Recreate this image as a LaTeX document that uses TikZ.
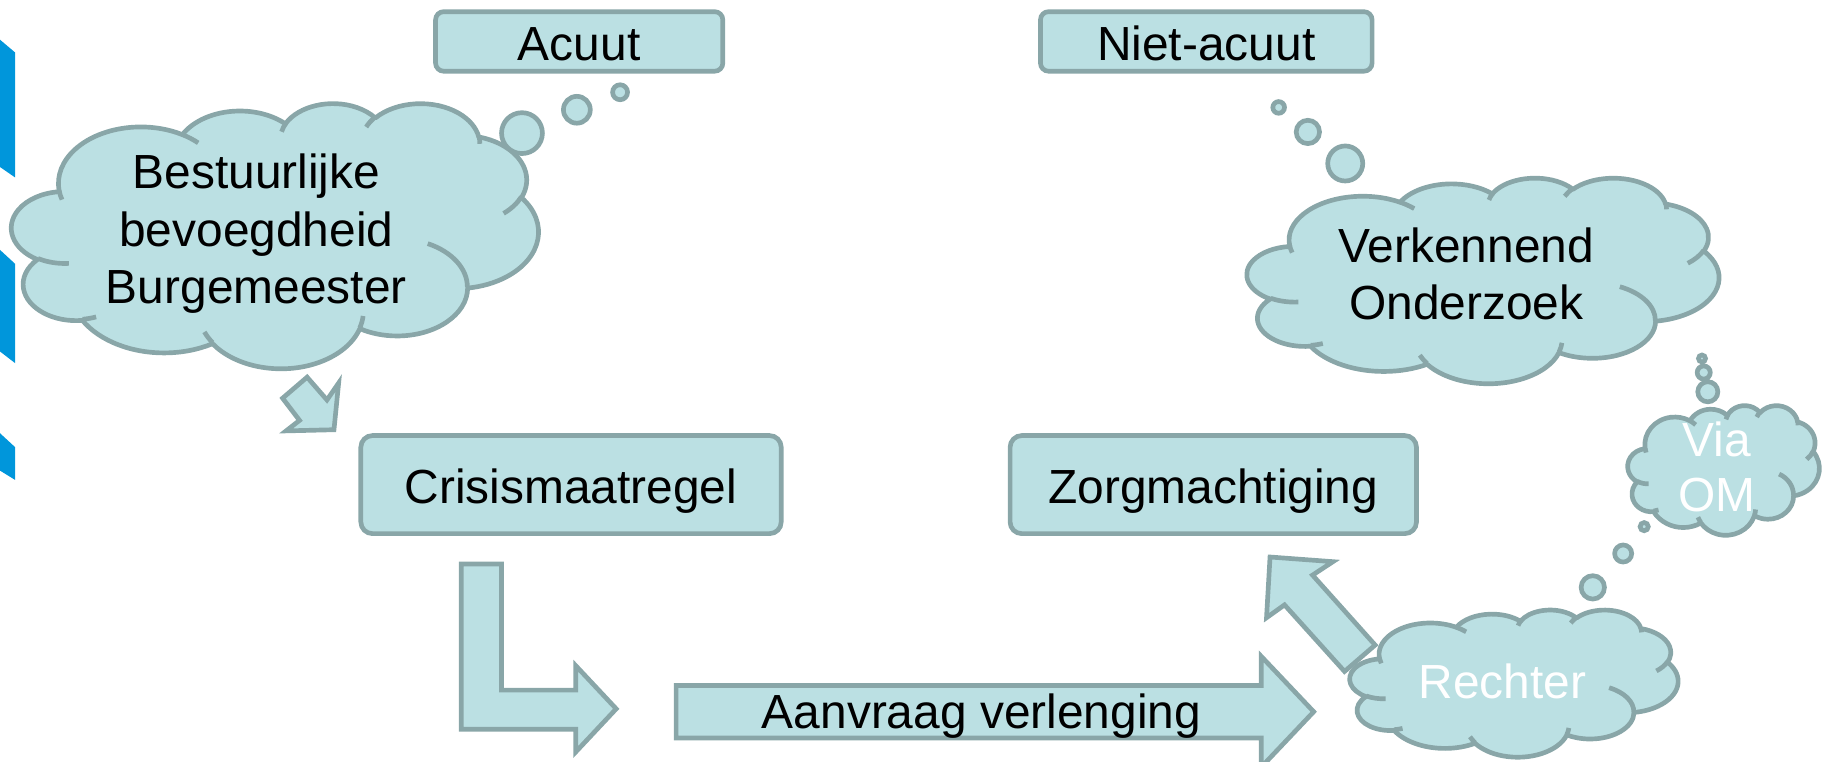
\documentclass[tikz,border=0pt]{standalone}
\usepackage{fontspec}
\setmainfont{Liberation Sans}
\definecolor{cfill}{RGB}{187,224,227}
\definecolor{cline}{RGB}{137,166,168}
\definecolor{cblue}{RGB}{0,150,219}
% DrawingML arcTo: visual angle -> parametric angle
\newcommand\ooT[3]{(#3+Mod(atan2((#1)*sin(#3),(#2)*cos(#3))-(#3)+180,360)-180)}
\newcommand\ooarc[4]{arc[x radius=#1,y radius=#2,start angle={\ooT{#1}{#2}{#3}},end angle={\ooT{#1}{#2}{#3+#4}}]}
% PowerPoint cloud in box (x,y,w,h)
\newcommand\ppcloud[4]{%
 \begin{scope}[shift={(#1,#2)},xscale=#3/43.2,yscale=#4/43.2]
  \path[shp,line join=round] (3.9,14.37)
   \ooarc{6.753}{9.19}{-190.4875}{123.7805}
   \ooarc{5.333}{7.267}{-144.1024}{89.9452}
   \ooarc{4.365}{5.945}{-145.8079}{99.723}
   \ooarc{4.857}{6.595}{-130.9861}{117.2417}
   \ooarc{5.333}{7.273}{-78.7089}{109.0269}
   \ooarc{6.775}{9.22}{-46.2673}{130.269}
   \ooarc{5.785}{7.867}{0.625}{114.0333}
   \ooarc{6.752}{9.215}{22.4516}{115.1726}
   \ooarc{7.72}{10.543}{66.2426}{75.711}
   \ooarc{4.36}{5.918}{-274.9421}{146.7356}
   \ooarc{4.345}{5.945}{-246.8285}{152.5189} -- cycle;
  \draw[cline,line width=2pt]
   (4.693,26.177) \ooarc{4.345}{5.945}{86.742}{26.4295}
   (6.928,34.899) \ooarc{4.36}{5.918}{73.6105}{11.4475}
   (16.478,39.09) \ooarc{6.752}{9.215}{137.6242}{14.0811}
   (28.827,34.751) \ooarc{6.752}{9.215}{6.4533}{15.9984}
   (34.129,22.954) \ooarc{5.785}{7.867}{-70.2924}{70.9174}
   (41.798,15.354) \ooarc{5.333}{7.273}{30.318}{27.7515}
   (38.324,5.426) \ooarc{4.857}{6.595}{-13.7443}{14.8589}
   (29.078,3.952) \ooarc{4.857}{6.595}{-149.1815}{18.1954}
   (22.141,4.72) \ooarc{4.365}{5.945}{-163.4943}{17.6864}
   (14.0,5.192) \ooarc{6.753}{9.19}{-66.707}{12.3194}
   (4.127,15.789) \ooarc{6.753}{9.19}{157.6544}{11.8582};
 \end{scope}}
\tikzset{
 shp/.style={fill=cfill,draw=cline,line width=2pt},
 rbox/.style={shp,inner sep=0pt,text height=16.2pt,text depth=0pt,font=\fontsize{20.5}{24}\selectfont},
 lbl/.style={inner sep=0pt,anchor=base,font=\fontsize{20.5}{24}\selectfont},
 wlbl/.style={lbl,text=white},
}
\begin{document}
\begin{tikzpicture}[x=0.5pt,y=-0.5pt]
\clip (0,0) rectangle (1568,652);
% blue bars at the left edge
\fill[cblue] (0,34) -- (13,45) -- (13,152) -- (0,143) -- cycle;
\fill[cblue] (0,214) -- (13,226) -- (13,311) -- (0,301) -- cycle;
\fill[cblue] (0,371) -- (13,383) -- (13,411) -- (0,403) -- cycle;
% boxes
\node[rbox,minimum width=123pt,minimum height=25.5pt,rounded corners=3.5pt] (acuut) at (496,35.5) {Acuut};
\node[rbox,minimum width=142pt,minimum height=25.5pt,rounded corners=3.5pt] (nietacuut) at (1033,35.5) {Niet-acuut};
\node[rbox,minimum width=180pt,minimum height=42pt,rounded corners=5pt] (crisis) at (489,415) {Crisismaatregel};
\node[rbox,minimum width=174pt,minimum height=42pt,rounded corners=5pt] (zorg) at (1039,415) {Zorgmachtiging};
% block arrows
\path[shp] (263,323) -- (280,342.5) -- (290,328) -- (286,368) -- (245,369) -- (256.5,360) -- (242,341) -- cycle;
\path[shp] (395,483) -- (429.5,483) -- (429.5,591) -- (493,591) -- (493,570) -- (527.7,607) -- (493,644) -- (493,624.5) -- (395,624.5) -- cycle;
\path[shp] (579,587) -- (1080,587) -- (1080,562) -- (1125,609.5) -- (1080,657) -- (1080,632) -- (579,632) -- cycle;
\path[shp] (1087.6,477) -- (1141.5,481) -- (1124,492.5) -- (1177.6,552.4) -- (1151.4,575) -- (1100,518) -- (1084.6,529) -- cycle;
% clouds
\ppcloud{10}{88}{451}{227}
\path[shp] (447,114) circle[radius=17.5] (494,94) circle[radius=11.5] (531,79) circle[radius=6.4];
\ppcloud{1068}{152}{404}{176}
\path[shp] (1152,140) circle[radius=15] (1120,113) circle[radius=10] (1095,92) circle[radius=5];
\ppcloud{1394}{347}{164}{111}
\path[shp] (1462.5,335.5) circle[radius=8.6] (1459,319) circle[radius=5.6] (1457.5,307) circle[radius=3];
\ppcloud{1156}{522}{281}{126}
\path[shp] (1364,503) circle[radius=10] (1390,474) circle[radius=7.3] (1408,451) circle[radius=3.5];
% texts
\node[lbl] (aanvraag) at (840.5,624) {Aanvraag verlenging};
\node[lbl] (best1) at (219.5,161) {Bestuurlijke};
\node[lbl] (best2) at (219.5,211) {bevoegdheid};
\node[lbl] (best3) at (219.5,260) {Burgemeester};
\node[lbl] (verk1) at (1255.7,225) {Verkennend};
\node[lbl] (verk2) at (1255.7,274) {Onderzoek};
\node[wlbl] (via1) at (1470,391) {Via};
\node[wlbl] (via2) at (1470,438) {OM};
\node[wlbl] (rechter) at (1286.5,598) {Rechter};
\end{tikzpicture}
\end{document}
